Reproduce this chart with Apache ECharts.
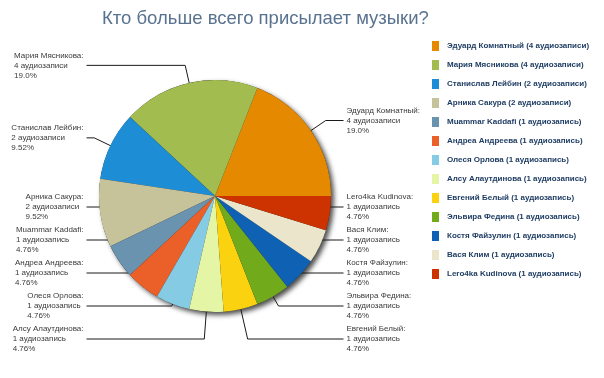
<!DOCTYPE html>
<html>
<head>
<meta charset="utf-8">
<script src="https://cdn.jsdelivr.net/npm/echarts@6/dist/echarts.min.js"></script>
<style>
  html, body { margin: 0; padding: 0; background: #fff; }
  #chart { width: 604px; height: 378px; }
</style>
</head>
<body>
<div id="chart"></div>
<script>
const names = ['Эдуард Комнатный', 'Мария Мясникова', 'Станислав Лейбин', 'Арника Сакура', 'Muammar Kaddafi', 'Андреа Андреева', 'Олеся Орлова', 'Алсу Алаутдинова', 'Евгений Белый', 'Эльвира Федина', 'Костя Файзулин', 'Вася Клим', 'Lero4ka Kudinova']
const counts = [4, 4, 2, 2, 1, 1, 1, 1, 1, 1, 1, 1, 1]
const colors = ['#e58a00', '#a3bc4f', '#1d8dd5', '#c6c39a', '#6a93b0', '#eb5f28', '#85cbe3', '#e4f6a5', '#fad20f', '#71aa1b', '#0f62b3', '#eae5cb', '#cc3300']

const unit = n => (n === 1 ? 'аудиозапись' : 'аудиозаписи')
const total = counts.reduce((a, b) => a + b, 0)
const pct = n => (n / total * 100).toPrecision(3) + '%'

// pie geometry (pixels)
const cx = 215
const cy = 196
const R = 116
const rInner = 98
const rNatural = 134
const colOffset = 128.5
const slotH = 33
const bottomY = 339

// label slots: natural height, pushed down on overlap, then up from the bottom limit
const labelY = []
const mids = []
let acc = 0
counts.forEach((v, i) => {
  const a = (acc + v / 2) / total * Math.PI * 2
  mids.push(a)
  acc += v
})
;[-1, 1].forEach(side => {
  const idx = mids.map((a, i) => i).filter(i => (Math.cos(mids[i]) < 0 ? -1 : 1) === side)
  idx.sort((a, b) => (cy - rNatural * Math.sin(mids[a])) - (cy - rNatural * Math.sin(mids[b])))
  const ys = idx.map(i => cy - rNatural * Math.sin(mids[i]))
  for (let k = 1; k < ys.length; k++) ys[k] = Math.max(ys[k], ys[k - 1] + slotH)
  ys[ys.length - 1] = Math.min(ys[ys.length - 1], bottomY)
  for (let k = ys.length - 2; k >= 0; k--) ys[k] = Math.min(ys[k], ys[k + 1] - slotH)
  idx.forEach((i, k) => { labelY[i] = ys[k] })
})

const chart = echarts.init(document.getElementById('chart'))

const option = {
  animation: false,
  title: {
    text: 'Кто больше всего присылает музыки?',
    left: 97,
    top: 4,
    textStyle: {
      color: '#58728f',
      fontFamily: 'Liberation Sans',
      fontWeight: 'normal',
      fontSize: 18.5,
    },
  },
  legend: {
    orient: 'vertical',
    left: 427,
    top: 36,
    icon: 'rect',
    itemWidth: 7,
    itemHeight: 10,
    itemGap: 9,
    data: names,
    formatter: name => {
      const i = names.indexOf(name)
      return `${name} (${counts[i]} ${unit(counts[i])})`
    },
    textStyle: {
      color: '#1f3d63',
      fontFamily: 'Liberation Sans',
      fontWeight: 'bold',
      fontSize: 8,
      lineHeight: 10,
      padding: [0, 0, 0, 3],
    },
  },
  series: [
    {
      type: 'pie',
      silent: true,
      center: [cx, cy],
      radius: R,
      z: 1,
      label: { show: false },
      labelLine: { show: false },
      itemStyle: {
        color: '#222',
        shadowBlur: 5,
        shadowOffsetX: 3,
        shadowOffsetY: 3,
        shadowColor: 'rgba(0,0,0,0.7)',
      },
      data: [{ name: 'total', value: total }],
    },
    {
      type: 'pie',
      z: 2,
      center: [cx, cy],
      radius: R,
      startAngle: 0,
      clockwise: false,
      color: colors,
      data: names.map((n, i) => ({ name: n, value: counts[i] })),
      label: {
        show: true,
        position: 'outside',
        color: '#3a3a3a',
        fontFamily: 'Liberation Sans',
        fontSize: 8,
        lineHeight: 10,
        formatter: p => `{t|${p.name}:}\n{t|${p.value} ${unit(p.value)}}\n{t|${pct(p.value)}}`,
        rich: {
          t: { align: 'left', fontSize: 8, lineHeight: 10, color: '#3a3a3a', fontFamily: 'Liberation Sans' },
        },
      },
      labelLine: {
        show: true,
        length: 18,
        length2: 10,
        lineStyle: { color: '#1a1a1a', width: 1 },
      },
      labelLayout: params => {
        const i = params.dataIndex
        const a = mids[i]
        const dx = Math.cos(a)
        const dy = -Math.sin(a)
        const side = dx < 0 ? -1 : 1
        const ly = labelY[i]
        const colX = cx + side * colOffset
        let p0 = [cx + rInner * dx, cy + rInner * dy]
        let bend
        const t = Math.abs(dy) > 1e-6 ? (ly - p0[1]) / dy : -1
        if (t > 0) {
          bend = [p0[0] + dx * t, ly]
        } else {
          p0 = [p0[0], ly]
          bend = [p0[0], ly]
        }
        if (side * (bend[0] - colX) > 0) bend[0] = colX
        return {
          x: colX + side * 3,
          y: ly,
          align: side < 0 ? 'right' : 'left',
          verticalAlign: 'middle',
          labelLinePoints: [p0, bend, [colX, ly]],
        }
      },
    },
  ],
}

chart.setOption(option)
</script>
</body>
</html>
